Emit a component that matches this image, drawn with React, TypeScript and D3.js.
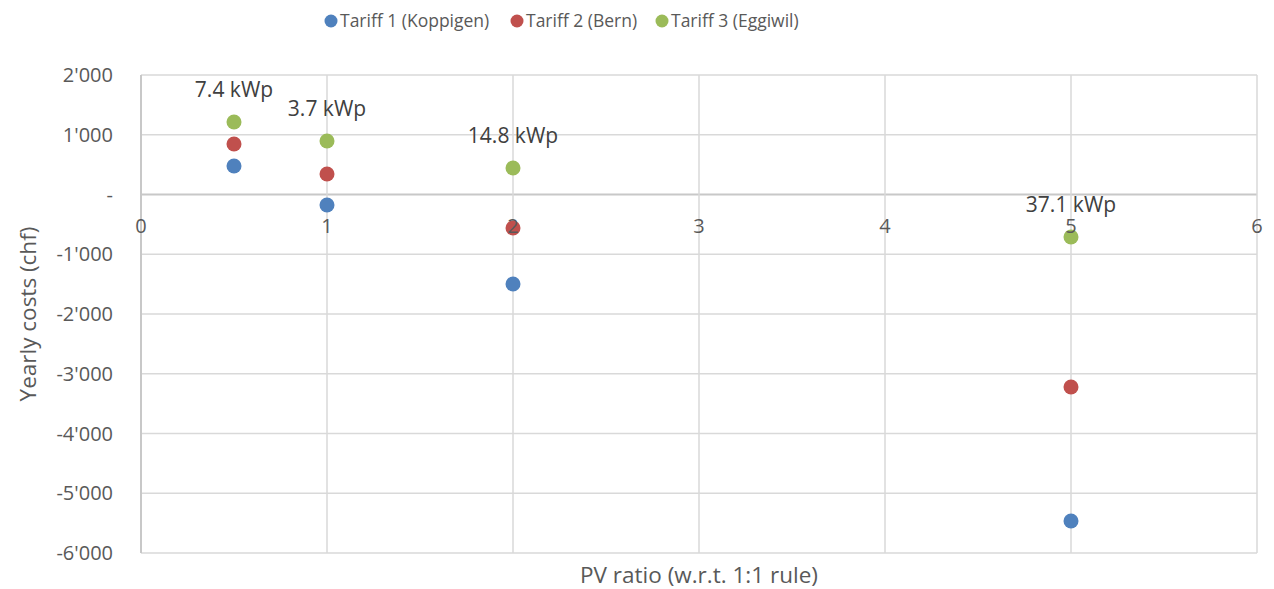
import React from "react";
import * as d3 from "d3";

const seriesNames = ["Tariff 1 (Koppigen)", "Tariff 2 (Bern)", "Tariff 3 (Eggiwil)"];
const seriesColors = ["#4F81BD", "#C0504D", "#9BBB59"];
const pvRatios = [0.5, 1, 2, 5];
const tariff1 = [477, -176, -1498, -5464];
const tariff2 = [845, 343, -561, -3222];
const tariff3 = [1213, 895, 444, -712];
const pointLabels = ["7.4 kWp", "3.7 kWp", "14.8 kWp", "37.1 kWp"];
const xTicks = [0, 1, 2, 3, 4, 5, 6];
const yTicks = [2000, 1000, 0, -1000, -2000, -3000, -4000, -5000, -6000];

const W = 1274;
const H = 589;
const margin = { left: 141, right: 17, top: 75, bottom: 36 };
const FONT = "'Open Sans', sans-serif";
const TXT = "#595959";

function fmtY(v: number): string {
  if (v === 0) return "-";
  const s = Math.abs(v).toString();
  const body = s.length > 3 ? s.slice(0, s.length - 3) + "'" + s.slice(-3) : s;
  return (v < 0 ? "-" : "") + body;
}

export default function App() {
  const x = d3.scaleLinear().domain([0, 6]).range([margin.left, W - margin.right]);
  const y = d3.scaleLinear().domain([-6000, 2000]).range([H - margin.bottom, margin.top]);
  const series = [tariff1, tariff2, tariff3];
  const legendX = [331, 517, 662];

  return (
    <svg
      width={W}
      height={H}
      style={{ position: "absolute", left: 0, top: 0, background: "#fff" }}
      fontFamily={FONT}
    >
      <rect x={0} y={0} width={W} height={H} fill="#fff" />
      {/* gridlines */}
      {yTicks.map((t) => (
        <line
          key={"gy" + t}
          x1={x(0)}
          x2={x(6)}
          y1={y(t)}
          y2={y(t)}
          stroke={t === 0 ? "#c8c8c8" : "#d9d9d9"}
          strokeWidth={t === 0 ? 2 : 1.5}
        />
      ))}
      {xTicks.map((t) => (
        <line
          key={"gx" + t}
          x1={x(t)}
          x2={x(t)}
          y1={y(2000)}
          y2={y(-6000)}
          stroke={t === 0 ? "#c8c8c8" : "#d9d9d9"}
          strokeWidth={t === 0 ? 2 : 1.5}
        />
      ))}
      {/* y tick labels */}
      {yTicks.map((t) => (
        <text
          key={"ty" + t}
          x={113}
          y={y(t)}
          dy="0.35em"
          textAnchor="end"
          fontSize={20}
          fill={TXT}
        >
          {fmtY(t)}
        </text>
      ))}
      {/* points */}
      {series.map((vals, si) =>
        vals.map((v, i) => (
          <circle key={"p" + si + "-" + i} cx={x(pvRatios[i])} cy={y(v)} r={7.5} fill={seriesColors[si]} />
        ))
      )}
      {/* x tick labels */}
      {xTicks.map((t) => (
        <text key={"tx" + t} x={x(t)} y={233} textAnchor="middle" fontSize={20} fill={TXT}>
          {t}
        </text>
      ))}
      {/* data labels on series 3 */}
      {tariff3.map((v, i) => (
        <text
          key={"dl" + i}
          x={x(pvRatios[i])}
          y={y(v) - 32}
          dy="0.35em"
          textAnchor="middle"
          fontSize={21}
          fill="#404040"
        >
          {pointLabels[i]}
        </text>
      ))}
      {/* axis titles */}
      <text x={699} y={575} dy="0.35em" textAnchor="middle" fontSize={22.5} fill={TXT}>
        PV ratio (w.r.t. 1:1 rule)
      </text>
      <text
        transform={`translate(28,${(y(2000) + y(-6000)) / 2}) rotate(-90)`}
        dy="0.35em"
        textAnchor="middle"
        fontSize={22.5}
        fill={TXT}
      >
        Yearly costs (chf)
      </text>
      {/* legend */}
      {seriesNames.map((n, i) => (
        <g key={"lg" + i}>
          <circle cx={legendX[i]} cy={21} r={6.5} fill={seriesColors[i]} />
          <text x={legendX[i] + 9} y={21} dy="0.35em" fontSize={17.5} fill={TXT}>
            {n}
          </text>
        </g>
      ))}
    </svg>
  );
}
